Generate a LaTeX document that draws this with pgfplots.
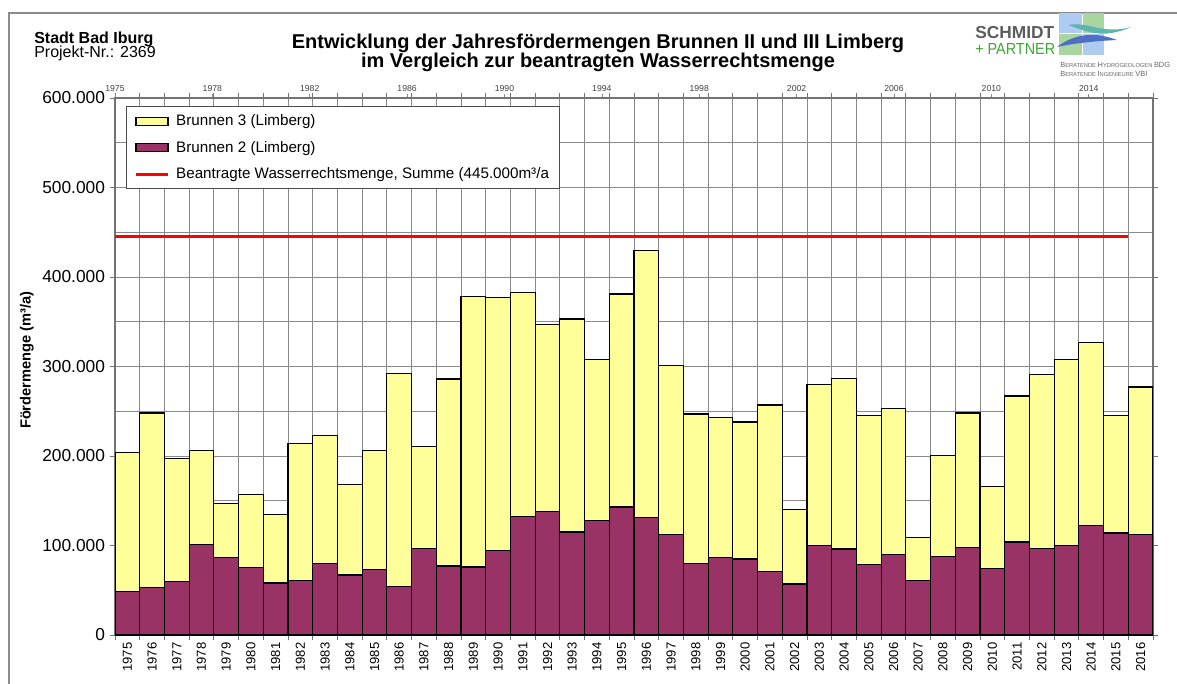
\documentclass[border=0pt]{standalone}
\usepackage{fontspec}
\setmainfont{Liberation Sans}
\usepackage{pgfplots}
\usepackage{pgfplotstable}
\pgfplotsset{compat=1.18}

\definecolor{gelb}{HTML}{FFFF99}
\definecolor{lila}{HTML}{993366}
\definecolor{gitter}{HTML}{8A8A8A}
\definecolor{spgrau}{HTML}{5C5C5C}
\definecolor{spgruen}{HTML}{3FA535}
\definecolor{hellblau}{HTML}{AECBF2}
\definecolor{hellgruen}{HTML}{A8D5A0}
\definecolor{welletuerkis}{HTML}{5DB5AE}
\definecolor{welleblau}{HTML}{4E6FC4}

% Jahresfoerdermengen in m3/a: gesamt = Brunnen 2 + Brunnen 3
\pgfplotstableread{
jahr gesamt b2
1975 204000 49000
1976 248000 53000
1977 197000 60000
1978 206000 101000
1979 147000 87000
1980 157000 75000
1981 135000 58000
1982 214000 61000
1983 223000 80000
1984 168000 67000
1985 206000 73000
1986 292000 54000
1987 211000 97000
1988 286000 77000
1989 378000 76000
1990 377000 94000
1991 383000 132000
1992 347000 138000
1993 353000 115000
1994 308000 128000
1995 381000 143000
1996 430000 131000
1997 301000 112000
1998 247000 80000
1999 243000 87000
2000 238000 85000
2001 257000 71000
2002 140000 57000
2003 280000 100000
2004 287000 96000
2005 245000 79000
2006 253000 90000
2007 109000 61000
2008 201000 88000
2009 248000 98000
2010 166000 74000
2011 267000 104000
2012 291000 97000
2013 308000 100000
2014 327000 122000
2015 245000 114000
2016 277000 112000
}\foerder

\begin{document}
\begin{tikzpicture}[x=0.75pt,y=0.75pt]
\path[use as bounding box] (0,0) rectangle (1177,-684);

% Rahmen
\draw[black!45, line width=1.5pt] (9,-700) -- (9,-13) -- (1190,-13);

% Kopf
\node[anchor=base west, inner sep=0, font=\fontsize{12}{14}\selectfont\bfseries] at (34,-44) {Stadt Bad Iburg};
\node[anchor=base west, inner sep=0, font=\fontsize{12}{14}\selectfont] at (34,-58) {Projekt-Nr.: 2369};
\node[anchor=base, inner sep=0, font=\fontsize{15}{17}\selectfont\bfseries] at (598,-49) {Entwicklung der Jahresfördermengen Brunnen II und III Limberg};
\node[anchor=base, inner sep=0, font=\fontsize{15}{17}\selectfont\bfseries] at (598,-68) {im Vergleich zur beantragten Wasserrechtsmenge};

% Logo
\fill[hellblau] (1059,-13) rectangle (1082,-33);
\fill[hellgruen] (1083,-13) rectangle (1104,-33);
\fill[hellgruen] (1059,-34) rectangle (1082,-55);
\fill[hellblau] (1083,-34) rectangle (1104,-55);
\fill[welletuerkis] (1068,-25) .. controls (1088,-21) and (1102,-35) .. (1131,-27)
  .. controls (1102,-40) and (1086,-31) .. cycle;
\fill[welleblau] (1057,-47) .. controls (1075,-33) and (1096,-32) .. (1117,-40)
  .. controls (1096,-41) and (1076,-43) .. cycle;
\node[anchor=base west, inner sep=0, text=spgrau, font=\fontsize{13}{14}\selectfont\bfseries] at (975,-39) {SCHMIDT};
\node[anchor=base west, inner sep=0, text=spgruen, font=\fontsize{12}{14}\selectfont] at (975,-55) {\scalebox{0.9}[1]{+ PARTNER}};
\node[anchor=base west, inner sep=0, text=black!60] at (1060,-68)
  {{\fontsize{5.6}{6}\selectfont B}{\fontsize{4.3}{5}\selectfont ERATENDE }{\fontsize{5.6}{6}\selectfont H}{\fontsize{4.3}{5}\selectfont YDROGEOLOGEN }{\fontsize{5.6}{6}\selectfont BDG}};
\node[anchor=base west, inner sep=0, text=black!60] at (1060,-77)
  {{\fontsize{5.6}{6}\selectfont B}{\fontsize{4.3}{5}\selectfont ERATENDE }{\fontsize{5.6}{6}\selectfont I}{\fontsize{4.3}{5}\selectfont NGENIEURE }{\fontsize{5.6}{6}\selectfont VBI}};

\begin{axis}[
    at={(86.25pt,-476.25pt)}, anchor=south west,
    scale only axis, width=778.5pt, height=402.75pt,
    xmin=1974.5, xmax=2016.5, ymin=0, ymax=600000,
    axis line style={black!55, line width=0.8pt},
    xtick={1975,1976,...,2016},
    xticklabels={1975,1976,1977,1978,1979,1980,1981,1982,1983,1984,1985,1986,1987,1988,
        1989,1990,1991,1992,1993,1994,1995,1996,1997,1998,1999,2000,2001,2002,2003,2004,
        2005,2006,2007,2008,2009,2010,2011,2012,2013,2014,2015,2016},
    xticklabel style={rotate=90, anchor=east, font=\fontsize{9.8}{10}\selectfont, inner sep=1.5pt},
    minor xtick={1974.5,1975.5,...,2016.5},
    xminorgrids=true,
    major x tick style={draw=none},
    ytick={0,100000,...,600000},
    yticklabels={0,100.000,200.000,300.000,400.000,500.000,600.000},
    minor ytick={50000,150000,...,550000},
    ymajorgrids=true, yminorgrids=true,
    minor y tick style={draw=none},
    scaled y ticks=false,
    yticklabel style={font=\fontsize{13}{13}\selectfont},
    tick align=outside,
    major tick length=4pt, minor tick length=4pt,
    tick style={black!55, line width=0.6pt},
    grid style={gitter, line width=0.6pt},
    minor grid style={gitter, line width=0.6pt},
    ylabel={\bfseries Fördermenge (m³/a)},
    ylabel style={at={(axis description cs:-0.0848,0.512)}, anchor=center, font=\fontsize{11}{12}\selectfont},
    legend style={at={(0.0106,0.985)}, anchor=north west, draw=black!70, line width=0.75pt,
        fill=white, font=\fontsize{11.4}{13}\selectfont, row sep=6.2pt,
        inner xsep=6pt, inner ysep=4pt,
        /tikz/every odd column/.append style={column sep=3pt}},
    legend cell align=left,
]
% Brunnen 3 liegt oben: gelbe Saeule bis zur Gesamtmenge
\addplot[ybar, bar width=1, bar shift=0pt, fill=gelb, draw=black, line width=0.9pt, forget plot]
    table[x=jahr, y=gesamt] {\foerder};
\addplot[ybar, bar width=1, bar shift=0pt, fill=lila, draw=black, line width=0.9pt, forget plot]
    table[x=jahr, y=b2] {\foerder};
% beantragte Wasserrechtsmenge
\addplot[red, line width=2.25pt, forget plot] coordinates {(1974.5,445000) (2015.5,445000)};

\addlegendimage{legend image code/.code={\draw[fill=gelb, draw=black, line width=0.8pt] (0pt,-3pt) rectangle (24pt,3pt);}}
\addlegendentry{Brunnen 3 (Limberg)}
\addlegendimage{legend image code/.code={\draw[fill=lila, draw=black, line width=0.8pt] (0pt,-3pt) rectangle (24pt,3pt);}}
\addlegendentry{Brunnen 2 (Limberg)}
\addlegendimage{legend image code/.code={\draw[red, line width=2.25pt] (0pt,0pt) -- (24pt,0pt);}}
\addlegendentry{Beantragte Wasserrechtsmenge, Summe (445.000m³/a}
\end{axis}

% obere Zeitachse
\begin{axis}[
    at={(86.25pt,-476.25pt)}, anchor=south west,
    scale only axis, width=778.5pt, height=402.75pt,
    xmin=-0.5, xmax=41.5, ymin=0, ymax=1,
    axis x line*=top, axis y line=none,
    axis line style={black!55, line width=0.8pt},
    xtick={-0.5,3.44,7.38,11.32,15.26,19.2,23.14,27.08,31.02,34.96,38.9},
    xticklabels={1975,1978,1982,1986,1990,1994,1998,2002,2006,2010,2014},
    xticklabel style={font=\fontsize{6.5}{7}\selectfont, text=black!75, inner sep=1.5pt},
    tick align=outside, major tick length=3pt,
    tick style={black!45, line width=0.5pt},
]
\end{axis}
\end{tikzpicture}
\end{document}
